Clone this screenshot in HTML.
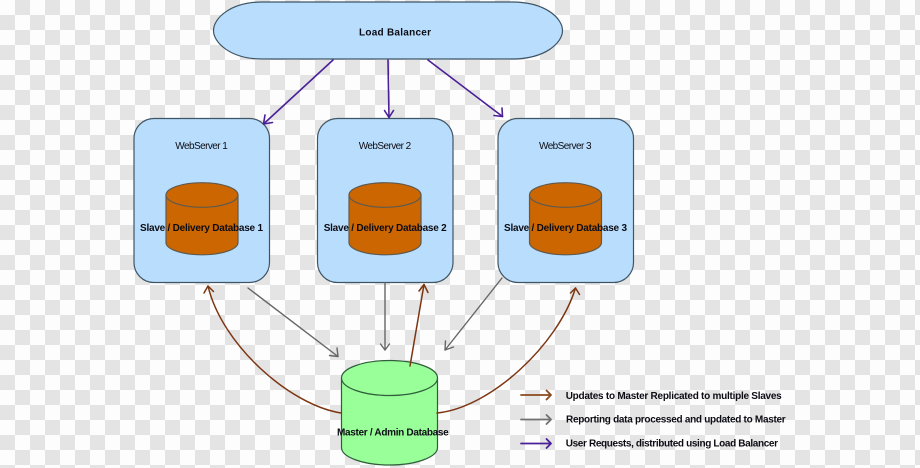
<!DOCTYPE html>
<html><head><meta charset="utf-8"><style>
html,body{margin:0;padding:0;width:920px;height:468px;overflow:hidden}
html{background:#fdfdfd}
body{background:repeating-conic-gradient(#e4e4e4 0 25%,#fdfdfd 0 50%) 0 0/30px 30px}
svg{display:block}
text{font-family:"Liberation Sans",sans-serif;fill:#0c0c14}
.b{font-weight:bold;font-size:10px}
.r{font-size:10px}
.a{fill:none;stroke-linecap:round;stroke-linejoin:round}
.p{stroke:#4a1f99;stroke-width:1.6}
.g{stroke:#666;stroke-width:1.4}
.o{stroke:#7c3512;stroke-width:1.5}
.ws{fill:#b9defd;stroke:#3f5566;stroke-width:1.2}
.cy{fill:#cc6600;stroke:#5e5a50;stroke-width:1.2}
.ma{fill:#99ff99;stroke:#2f5f3a;stroke-width:1.2}
</style></head><body>
<svg width="920" height="468" viewBox="0 0 920 468" xmlns="http://www.w3.org/2000/svg">
<path fill="none" stroke="#e4e4e4" stroke-width="15" stroke-dasharray="15 15" d="M15,7.5H920 M0,22.5H920 M15,37.5H920 M0,52.5H920 M15,67.5H920 M0,82.5H920 M15,97.5H920 M0,112.5H920 M15,127.5H920 M0,142.5H920 M15,157.5H920 M0,172.5H920 M15,187.5H920 M0,202.5H920 M15,217.5H920 M0,232.5H920 M15,247.5H920 M0,262.5H920 M15,277.5H920 M0,292.5H920 M15,307.5H920 M0,322.5H920 M15,337.5H920 M0,352.5H920 M15,367.5H920 M0,382.5H920 M15,397.5H920 M0,412.5H920 M15,427.5H920 M0,442.5H920 M15,457.5H920"/>

<path class="ws" d="M262,2 L512,2 C545,2 562.5,18 562.5,30.5 C562.5,43 545,59 512,59 L262,59 C231,59 213.5,43 213.5,30.5 C213.5,18 231,2 262,2 Z"/>
<text class="b" x="359" y="35.5" textLength="72">Load Balancer</text>

<rect class="ws" x="134" y="118.5" width="135.5" height="164" rx="20" ry="20"/>
<rect class="ws" x="317.5" y="118.5" width="135.5" height="164" rx="20" ry="20"/>
<rect class="ws" x="498" y="118.5" width="135.5" height="164" rx="20" ry="20"/>

<text class="r" x="175.3" y="149" textLength="52.5">WebServer 1</text>
<text class="r" x="358.7" y="149" textLength="52.5">WebServer 2</text>
<text class="r" x="539" y="149" textLength="52.5">WebServer 3</text>

<g id="cyls">
<path class="cy" d="M166,195 A36,12.3 0 0 1 238,195 L238,242.5 A36,12.3 0 0 1 166,242.5 Z"/>
<path class="cy" d="M166,195 A36,12.3 0 0 0 238,195"/>
<path class="cy" d="M349,195 A36,12.3 0 0 1 421,195 L421,242.5 A36,12.3 0 0 1 349,242.5 Z"/>
<path class="cy" d="M349,195 A36,12.3 0 0 0 421,195"/>
<path class="cy" d="M529.5,195 A36,12.3 0 0 1 601.5,195 L601.5,242.5 A36,12.3 0 0 1 529.5,242.5 Z"/>
<path class="cy" d="M529.5,195 A36,12.3 0 0 0 601.5,195"/>
</g>

<text class="b" x="140" y="231" textLength="123">Slave / Delivery Database 1</text>
<text class="b" x="323.7" y="231" textLength="123">Slave / Delivery Database 2</text>
<text class="b" x="504" y="231" textLength="123">Slave / Delivery Database 3</text>

<path class="ma" d="M341.5,378 A48,17.5 0 0 1 437.5,378 L437.5,447.5 A48,17.5 0 0 1 341.5,447.5 Z"/>
<path class="ma" d="M341.5,378 A48,17.5 0 0 0 437.5,378"/>
<text class="b" x="337" y="435.7" textLength="111.7">Master / Admin Database</text>

<!-- purple arrows -->
<g class="a p">
<path d="M333,60 L263.5,124"/><path d="M265,115 L263.5,124 L272.5,122.5"/>
<path d="M388,60 L389,117.5"/><path d="M384.5,110.5 L389,117.5 L393.5,110.5"/>
<path d="M428,60 L502.5,116.5"/><path d="M502,108 L502.5,116.5 L494,115.5"/>
</g>
<!-- grey arrows -->
<g class="a g">
<path d="M248,288 L338,356.5"/><path d="M337,348 L338,356.5 L329.5,355.5"/>
<path d="M385,283 L385,350"/><path d="M380.5,344 L385,350 L389.5,344"/>
<path d="M502,278 L445,350"/><path d="M445.5,341 L445,350 L453.5,347"/>
</g>
<!-- brown arrows -->
<g class="a o">
<path d="M341,413 C290,405 222,345 208,286"/><path d="M204,293 L208,286 L213.5,291.5"/>
<path d="M437,413 C490,408 558,345 575.5,288"/><path d="M570.5,293 L575.5,288 L579.5,294.5"/>
<path d="M410,366 L424,284.5"/><path d="M419,291 L424,284.5 L428,292.5"/>
</g>

<!-- legend -->
<g class="a" stroke-width="1.8">
<path stroke="#8a4a1c" d="M521,395 L551,395 M546.5,390.5 L551,395 L546.5,399.5"/>
<path stroke="#707070" d="M521,419.5 L551,419.5 M546.5,415 L551,419.5 L546.5,424"/>
<path stroke="#4a1f99" d="M521,443.5 L551,443.5 M546.5,439 L551,443.5 L546.5,448"/>
</g>
<text class="b" x="565.7" y="399" textLength="216">Updates to Master Replicated to multiple Slaves</text>
<text class="b" x="566" y="422.5" textLength="219.7">Reporting data processed and updated to Master</text>
<text class="b" x="565.7" y="446.5" textLength="212.3">User Requests, distributed using Load Balancer</text>
</svg>
</body></html>
